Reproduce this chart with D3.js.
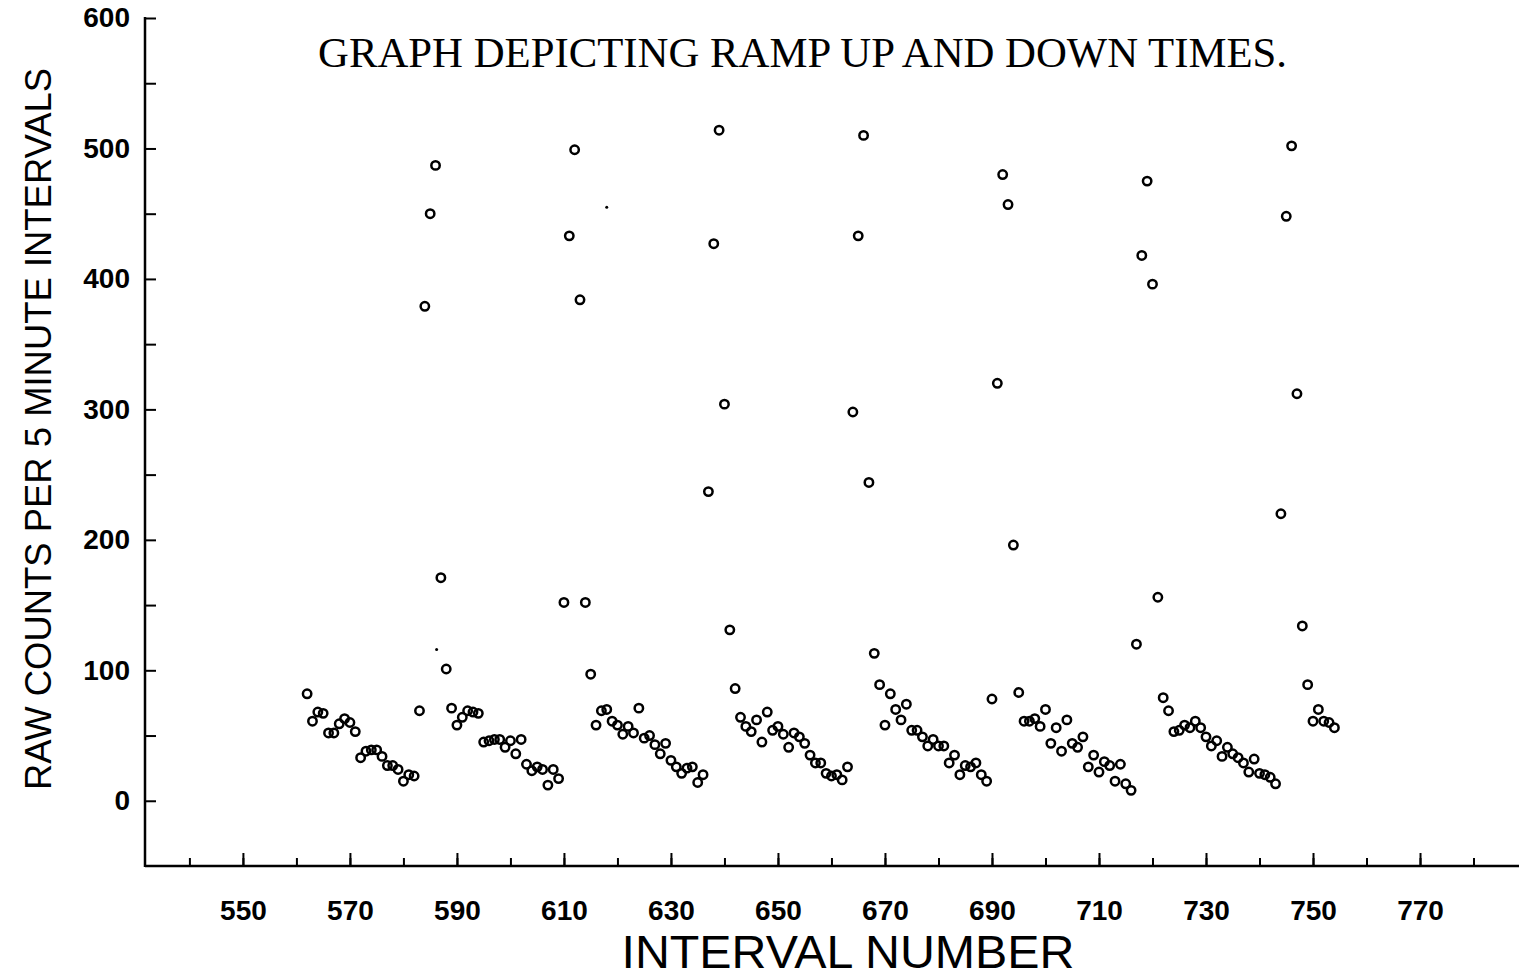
<!DOCTYPE html>
<html>
<head>
<meta charset="utf-8">
<script src="https://cdn.jsdelivr.net/npm/d3@7"></script>
<style>
  html, body { margin: 0; padding: 0; background: #fff; }
  svg { display: block; }
</style>
</head>
<body>
<div id="chart"></div>
<script>
const WIDTH = 1519;
const HEIGHT = 979;

// Raw counts per 5 minute interval, one value per interval starting at FIRST_INTERVAL
const FIRST_INTERVAL = 562;
const COUNTS = [
  82, 61, 68, 67, 52, 52, 59, 63, 60, 53, 33, 38, 39, 39, 34, 27, 27, 24, 15, 20, 19, 69, // 562-583
  379, 450, 487, 171, // 584-587 ramp
  101, 71, 58, 64, 69, 68, 67, 45, 46, 47, 47, 41, 46, 36, 47, 28, 23, 26, 24, 12, 24, 17, // 588-609
  152, 433, 499, 384, 152, // 610-614 ramp
  97, 58, 69, 70, 61, 58, 51, 57, 52, 71, 48, 50, 43, 36, 44, 31, 26, 21, 25, 26, 14, 20, // 615-636
  237, 427, 514, 304, 131, // 637-641 ramp
  86, 64, 57, 53, 62, 45, 68, 54, 57, 51, 41, 52, 49, 44, 35, 29, 29, 21, 19, 20, 16, 26, // 642-663
  298, 433, 510, 244, // 664-667 ramp
  113, 89, 58, 82, 70, 62, 74, 54, 54, 49, 42, 47, 42, 42, 29, 35, 20, 27, 26, 29, 20, 15, 78, // 668-690
  320, 480, 457, 196, // 691-694 ramp
  83, 61, 61, 63, 57, 70, 44, 56, 38, 62, 44, 41, 49, 26, 35, 22, 30, 27, 15, 28, 13, 8, 120, // 695-717
  418, 475, 396, 156, // 718-721 ramp
  79, 69, 53, 54, 58, 56, 61, 56, 49, 42, 46, 34, 41, 36, 33, 29, 22, 32, 21, 20, 18, 13, // 722-743
  220, 448, 502, 312, 134, // 744-748 ramp
  89, 61, 70, 61, 60, 56, // 749-754
];

// Two stray specks in the plot area
const SPECK_INTERVALS = [586.2, 618];
const SPECK_COUNTS = [116, 455];

const X_DOMAIN = [531.7, 788.5];
const Y_DOMAIN = [-50, 600];
const X_MINOR_TICKS = [540, 550, 560, 570, 580, 590, 600, 610, 620, 630, 640, 650, 660, 670, 680, 690, 700, 710, 720, 730, 740, 750, 760, 770, 780];
const X_LABEL_TICKS = [550, 570, 590, 610, 630, 650, 670, 690, 710, 730, 750, 770];
const Y_TICKS = [0, 50, 100, 150, 200, 250, 300, 350, 400, 450, 500, 550, 600];

const TITLE = "GRAPH DEPICTING RAMP UP AND DOWN TIMES.";
const X_TITLE = "INTERVAL NUMBER";
const Y_TITLE = "RAW COUNTS PER 5 MINUTE INTERVALS";

const points = COUNTS.map((c, i) => ({ interval: FIRST_INTERVAL + i, count: c }));
const specks = SPECK_INTERVALS.map((v, i) => ({ interval: v, count: SPECK_COUNTS[i] }));

const x = d3.scaleLinear().domain(X_DOMAIN).range([145, 1519]);
const y = d3.scaleLinear().domain(Y_DOMAIN).range([866, 18]);

const svg = d3
  .select("#chart")
  .append("svg")
  .attr("width", WIDTH)
  .attr("height", HEIGHT)
  .attr("viewBox", [0, 0, WIDTH, HEIGHT]);

// x axis: minor ticks every 10, taller labelled ticks every 20 (ticks point up)
const xMinor = svg
  .append("g")
  .attr("transform", `translate(0,${y(-50)})`)
  .call(d3.axisBottom(x).tickValues(X_MINOR_TICKS).tickSizeInner(-8).tickSizeOuter(0).tickFormat(""));

const xMajor = svg
  .append("g")
  .attr("transform", `translate(0,${y(-50)})`)
  .call(
    d3.axisBottom(x).tickValues(X_LABEL_TICKS).tickSizeInner(-13).tickSizeOuter(0)
      .tickPadding(34).tickFormat(d3.format("d"))
  );

// y axis: ticks every 50 pointing right, labels every 100
const yAxis = svg
  .append("g")
  .attr("transform", `translate(${x(X_DOMAIN[0])},0)`)
  .call(
    d3.axisLeft(y).tickValues(Y_TICKS).tickSizeInner(-11).tickSizeOuter(0)
      .tickPadding(15).tickFormat((d) => (d % 100 === 0 ? d : ""))
  );

[xMinor, xMajor, yAxis].forEach((g) => {
  g.select(".domain").remove();
  g.selectAll(".tick line").attr("stroke", "#000").attr("stroke-width", 2);
  g.selectAll(".tick text")
    .attr("fill", "#000")
    .style("font-family", "'Liberation Sans', Arial, sans-serif")
    .style("font-weight", "700")
    .style("font-size", "28px");
});

// axis lines
svg.append("line")
  .attr("x1", x(X_DOMAIN[0])).attr("x2", x(X_DOMAIN[1]))
  .attr("y1", y(-50)).attr("y2", y(-50))
  .attr("stroke", "#000").attr("stroke-width", 2.5);

svg.append("line")
  .attr("x1", x(X_DOMAIN[0])).attr("x2", x(X_DOMAIN[0]))
  .attr("y1", y(600) - 1).attr("y2", y(-50) + 1)
  .attr("stroke", "#000").attr("stroke-width", 2.5);

// data markers: open circles
svg.append("g")
  .selectAll("circle")
  .data(points)
  .join("circle")
  .attr("cx", (d) => x(d.interval))
  .attr("cy", (d) => y(d.count))
  .attr("r", 4.2)
  .attr("fill", "none")
  .attr("stroke", "#000")
  .attr("stroke-width", 2.5);

svg.append("g")
  .selectAll("circle")
  .data(specks)
  .join("circle")
  .attr("cx", (d) => x(d.interval))
  .attr("cy", (d) => y(d.count))
  .attr("r", 1.5)
  .attr("fill", "#000");

// titles
svg.append("text")
  .attr("x", 318)
  .attr("y", 67)
  .attr("textLength", 969)
  .attr("lengthAdjust", "spacingAndGlyphs")
  .style("font-family", "'Liberation Serif', 'Times New Roman', serif")
  .style("font-size", "42px")
  .attr("fill", "#000")
  .text(TITLE);

svg.append("text")
  .attr("x", 848)
  .attr("y", 968)
  .attr("text-anchor", "middle")
  .attr("textLength", 453)
  .attr("lengthAdjust", "spacingAndGlyphs")
  .style("font-family", "'Liberation Sans', Arial, sans-serif")
  .style("font-size", "46px")
  .attr("fill", "#000")
  .text(X_TITLE);

svg.append("text")
  .attr("transform", `translate(51,429) rotate(-90)`)
  .attr("text-anchor", "middle")
  .attr("textLength", 722)
  .attr("lengthAdjust", "spacingAndGlyphs")
  .style("font-family", "'Liberation Sans', Arial, sans-serif")
  .style("font-size", "36px")
  .attr("fill", "#000")
  .text(Y_TITLE);
</script>
</body>
</html>
